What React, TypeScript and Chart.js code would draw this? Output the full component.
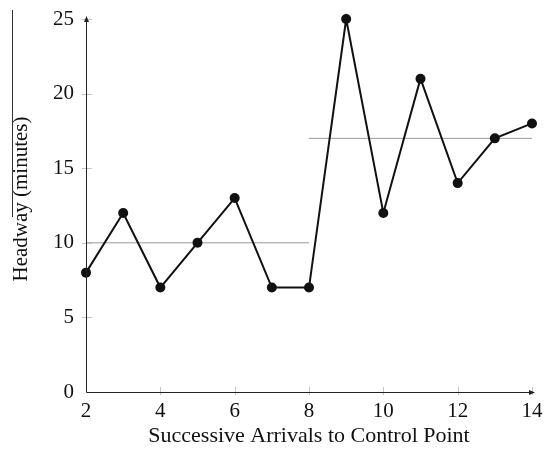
import React, { useEffect, useRef } from "react";
import { Chart, registerables } from "chart.js";
Chart.register(...registerables);

const arrivals = [2, 3, 4, 5, 6, 7, 8, 9, 10, 11, 12, 13, 14];
const headways = [8, 12, 7, 10, 13, 7, 7, 25, 12, 21, 14, 17, 18];
const meanBefore = { from: 2, to: 8, value: 10 };
const meanAfter = { from: 8, to: 14, value: 17 };
const xTicks = [2, 4, 6, 8, 10, 12, 14];
const yTicks = [0, 5, 10, 15, 20, 25];
const xTitle = "Successive Arrivals to Control Point";
const yTitle = "Headway (minutes)";

const FONT = "'Liberation Serif', 'Times New Roman', serif";

const axesPlugin = {
  id: "axesDecor",
  afterDraw(chart: any) {
    const ctx = chart.ctx;
    const xs = chart.scales.x;
    const ys = chart.scales.y;
    const ax = xs.getPixelForValue(2);
    const ay = ys.getPixelForValue(0);
    ctx.save();
    ctx.strokeStyle = "#c4c4c4";
    ctx.lineWidth = 1;
    yTicks.forEach((v) => {
      if (v === 0) return;
      const py = Math.round(ys.getPixelForValue(v)) + 0.5;
      ctx.beginPath();
      ctx.moveTo(ax - 4, py);
      ctx.lineTo(ax + 6, py);
      ctx.stroke();
    });
    xTicks.forEach((v) => {
      if (v === 2) return;
      const px = Math.round(xs.getPixelForValue(v)) + 0.5;
      ctx.beginPath();
      ctx.moveTo(px, ay - 5);
      ctx.lineTo(px, ay + 3);
      ctx.stroke();
    });
    ctx.strokeStyle = "#222";
    ctx.fillStyle = "#222";
    ctx.lineWidth = 1;
    const axr = Math.round(ax) + 0.5;
    const ayr = Math.round(ay) + 0.5;
    const topY = ys.getPixelForValue(25) - 1;
    const rightX = xs.getPixelForValue(14) + 1;
    ctx.beginPath();
    ctx.moveTo(axr, ayr);
    ctx.lineTo(axr, topY);
    ctx.moveTo(axr, ayr);
    ctx.lineTo(rightX, ayr);
    ctx.stroke();
    ctx.beginPath();
    ctx.moveTo(axr, topY - 2);
    ctx.lineTo(axr - 2.5, topY + 4);
    ctx.lineTo(axr + 2.5, topY + 4);
    ctx.closePath();
    ctx.fill();
    ctx.beginPath();
    ctx.moveTo(rightX + 2, ayr);
    ctx.lineTo(rightX - 4, ayr - 2.5);
    ctx.lineTo(rightX - 4, ayr + 2.5);
    ctx.closePath();
    ctx.fill();
    ctx.fillStyle = "#111";
    ctx.font = "21px " + FONT;
    ctx.textAlign = "center";
    ctx.textBaseline = "middle";
    ctx.translate(21, 199);
    ctx.rotate(-Math.PI / 2);
    ctx.fillText(yTitle, 0, 0);
    ctx.setTransform(1, 0, 0, 1, 0, 0);
    ctx.strokeStyle = "#333";
    ctx.beginPath();
    ctx.moveTo(12.5, 10);
    ctx.lineTo(12.5, 217);
    ctx.stroke();
    ctx.restore();
  },
};

export default function App() {
  const ref = useRef<HTMLCanvasElement | null>(null);
  useEffect(() => {
    if (!ref.current) return;
    const chart = new Chart(ref.current, {
      type: "line",
      data: {
        datasets: [
          {
            data: arrivals.map((a, i) => ({ x: a, y: headways[i] })),
            borderColor: "#111",
            backgroundColor: "#111",
            borderWidth: 2,
            pointRadius: 5,
            pointBackgroundColor: "#111",
            pointBorderWidth: 0,
            tension: 0,
            clip: false,
            order: 0,
          },
          {
            data: [
              { x: meanBefore.from, y: meanBefore.value },
              { x: meanBefore.to, y: meanBefore.value },
            ],
            borderColor: "#999",
            borderWidth: 1,
            pointRadius: 0,
            order: 1,
          },
          {
            data: [
              { x: meanAfter.from, y: meanAfter.value },
              { x: meanAfter.to, y: meanAfter.value },
            ],
            borderColor: "#999",
            borderWidth: 1,
            pointRadius: 0,
            order: 1,
          },
        ],
      },
      options: {
        animation: false,
        responsive: false,
        maintainAspectRatio: false,
        layout: { padding: { top: 19, right: 12, left: 0, bottom: 0 } },
        plugins: { legend: { display: false }, tooltip: { enabled: false } },
        scales: {
          x: {
            type: "linear",
            min: 2,
            max: 14,
            grid: { display: false, drawTicks: false },
            border: { display: false },
            afterBuildTicks: (s: any) => {
              s.ticks = xTicks.map((v) => ({ value: v }));
            },
            afterFit: (s: any) => {
              s.height = 60;
              s.paddingLeft = 0;
              s.paddingRight = 0;
            },
            ticks: {
              color: "#111",
              font: { family: FONT, size: 21 },
              padding: 7,
              maxRotation: 0,
            },
            title: {
              display: true,
              text: xTitle,
              color: "#111",
              font: { family: FONT, size: 22 },
              padding: { top: 0, bottom: 3 },
            },
          },
          y: {
            type: "linear",
            min: 0,
            max: 25,
            grid: { display: false, drawTicks: false },
            border: { display: false },
            afterBuildTicks: (s: any) => {
              s.ticks = yTicks.map((v) => ({ value: v }));
            },
            afterFit: (s: any) => {
              s.width = 86;
              s.paddingTop = 0;
              s.paddingBottom = 0;
            },
            ticks: {
              color: "#111",
              font: { family: FONT, size: 21 },
              padding: 12,
            },
            title: { display: false },
          },
        },
      },
      plugins: [axesPlugin],
    });
    return () => chart.destroy();
  }, []);
  return (
    <div style={{ position: "fixed", left: 0, top: 0, width: 544, height: 452, background: "#fff" }}>
      <canvas ref={ref} width={544} height={452} style={{ width: 544, height: 452 }} />
    </div>
  );
}
